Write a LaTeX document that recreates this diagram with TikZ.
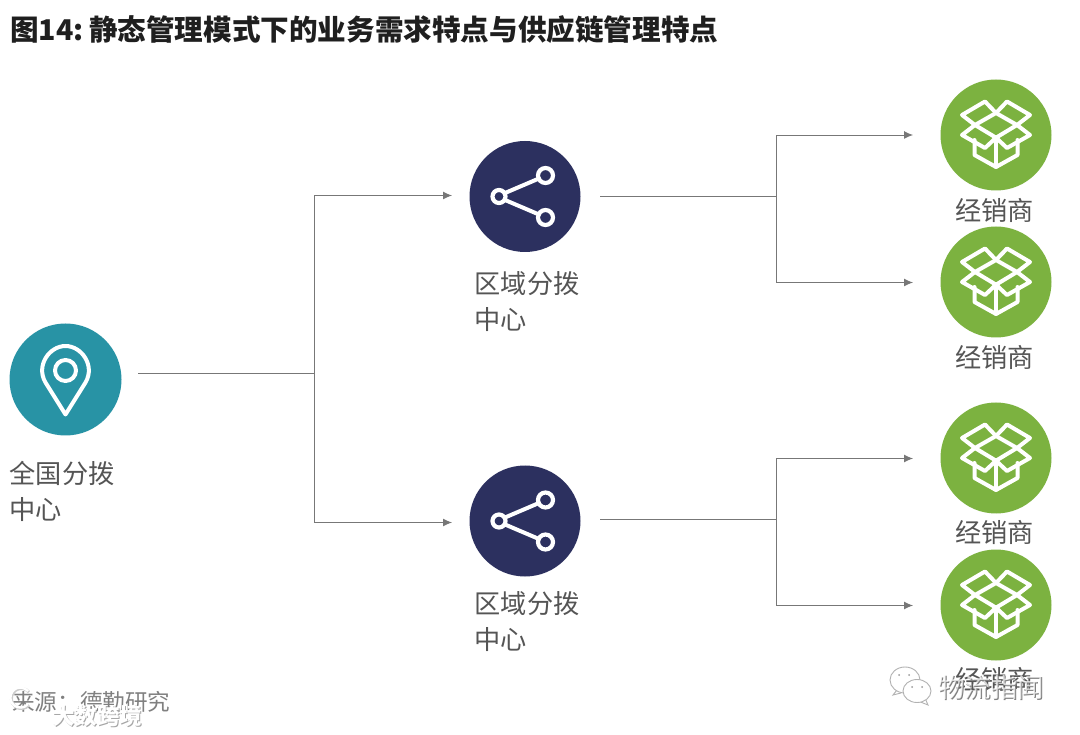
\documentclass[tikz,border=0pt]{standalone}
\usepackage{fontspec}
\setmainfont{Noto Sans CJK SC}
\usetikzlibrary{arrows.meta}
\definecolor{teal1}{HTML}{2893A5}
\definecolor{navy1}{HTML}{2C305F}
\definecolor{green1}{HTML}{7CB240}
\definecolor{line1}{HTML}{777777}
\definecolor{text1}{HTML}{555555}
\tikzset{
  x=1pt,y=-1pt,
  disc/.style={circle,inner sep=0pt,minimum size=111pt,draw=none},
  lab/.style={inner sep=0pt,text=text1,font=\fontsize{26.2}{36}\selectfont,align=left},
  conn/.style={draw=line1,line width=.9pt},
  arr/.style={conn,-{Latex[length=9pt,width=8pt,line1]}},
  glyph/.style={draw=white,line width=4pt,line join=round,line cap=round},
  pics/boxicon/.style={code={
    \draw[glyph] (0,-22) -- (21,-10) -- (0,2.7) -- (-21,-10) -- cycle;
    \draw[glyph] (-21,-10) -- (-34,-20) -- (-11,-33.5) -- (0,-22) -- (11,-33.5) -- (34,-20) -- (21,-10);
    \draw[glyph] (-21,-10) -- (-34,0) -- (-11,13) -- (0,2.7) -- (11,13) -- (34,0) -- (21,-10);
    \draw[glyph] (-21.5,5) -- (-21.5,20) -- (0,32) -- (21.5,20) -- (21.5,5);
    \draw[glyph] (0,2.7) -- (0,32);
  }},
  pics/shareicon/.style={code={
    \draw[glyph] (-20,-3.5) -- (14,-18);
    \draw[glyph] (-20,3.5) -- (14,18);
    \draw[glyph,line width=4.2pt] (-26,0) circle (6.5);
    \draw[glyph,line width=4.2pt] (20.5,-21) circle (7.5);
    \draw[glyph,line width=4.2pt] (20.5,21) circle (7.5);
  }},
  pics/pinicon/.style={code={
    \draw[glyph] (0,35) -- (-20,3) .. controls (-30,-14) and (-16,-33.5) .. (0,-33.5)
      .. controls (16,-33.5) and (30,-14) .. (20,3) -- cycle;
    \draw[glyph] (0,-9) circle (10.5);
  }}
}
\begin{document}
\begin{tikzpicture}
\useasboundingbox (0,0) rectangle (1080,735);
\fill[white] (0,0) rectangle (1080,735);
\node[anchor=west,inner sep=0pt,text=black!88,font=\fontsize{28.6}{30}\selectfont\bfseries] (title) at (10,30) {图14:\hspace{5.5pt}静态管理模式下的业务需求特点与供应链管理特点};

\node[disc,fill=teal1,minimum size=112pt] (nat) at (65.5,379.5) {};
\pic at (nat.center) {pinicon};
\node[lab,anchor=west] (natlab) at (9.5,491) {全国分拨\\中心};

\node[disc,fill=navy1] (hubA) at (525,196.5) {};
\pic at (hubA.center) {shareicon};
\node[lab,anchor=west] (hubAlab) at (474.5,302) {区域分拨\\中心};
\node[disc,fill=navy1] (hubB) at (525,521) {};
\pic at (hubB.center) {shareicon};
\node[lab,anchor=west] (hubBlab) at (474.5,621.5) {区域分拨\\中心};

\foreach \n/\y/\ly in {d1/135/210.5,d2/282/357.5,d3/458/532.5,d4/605/679.5}{
  \node[disc,fill=green1] (\n) at (996,\y) {};
  \pic at (\n.center) {boxicon};
  \node[lab,anchor=center] (\n lab) at (994.5,\ly) {经销商};
}

\coordinate (natout) at (138,373);
\coordinate (j0) at (314,373);
\coordinate (t1) at (452,195.5);
\coordinate (t2) at (452,522.5);
\draw[conn] (natout) -- (j0);
\draw[arr] (j0) |- (t1);
\draw[arr] (j0) |- (t2);

\coordinate (aout) at (600,196);
\coordinate (ja) at (776,196);
\coordinate (e1) at (913,135);
\coordinate (e2) at (913,282.5);
\draw[conn] (aout) -- (ja);
\draw[arr] (ja) |- (e1);
\draw[arr] (ja) |- (e2);

\coordinate (bout) at (600,519.5);
\coordinate (jb) at (776,519.5);
\coordinate (e3) at (913,458.5);
\coordinate (e4) at (913,605.5);
\draw[conn] (bout) -- (jb);
\draw[arr] (jb) |- (e3);
\draw[arr] (jb) |- (e4);

\node[anchor=west,inner sep=0pt,text=black!50,font=\fontsize{22.6}{24}\selectfont] (src) at (12,702) {来源：德勤研究};
% watermarks
\draw[black!20,line width=3pt] (29,705) arc (40:320:10);
\draw[white,line width=2.4pt] (28,704) arc (40:320:10);
\node[anchor=west,inner sep=0pt,text=black!35,font=\fontsize{22.5}{24}\selectfont\bfseries] (wm1s) at (53,717) {大数跨境};
\node[anchor=west,inner sep=0pt,text=white,font=\fontsize{22.5}{24}\selectfont\bfseries] (wm1) at (52,716) {大数跨境};
\node[anchor=west,inner sep=0pt,text=black!50,font=\fontsize{26.5}{28}\selectfont] (wm2s) at (939,688) {物流指闻};
\node[anchor=west,inner sep=0pt,text=white,opacity=.7,font=\fontsize{26.5}{28}\selectfont] (wm2) at (938,687) {物流指闻};
\draw[black!30,fill=white,line width=.9pt] (897,690) -- (893,695) -- (901,693);
\draw[black!30,fill=white,line width=.9pt] (905,680) ellipse (15 and 13);
\draw[black!30,fill=white,line width=.9pt] (925,698) -- (928,705) -- (918,701);
\draw[black!30,fill=white,line width=.9pt] (917,691) ellipse (14 and 11.5);
\fill[black!40] (899,675) circle (1) (909,675) circle (1) (912,687) circle (1) (922,687) circle (1);
\end{tikzpicture}
\end{document}
